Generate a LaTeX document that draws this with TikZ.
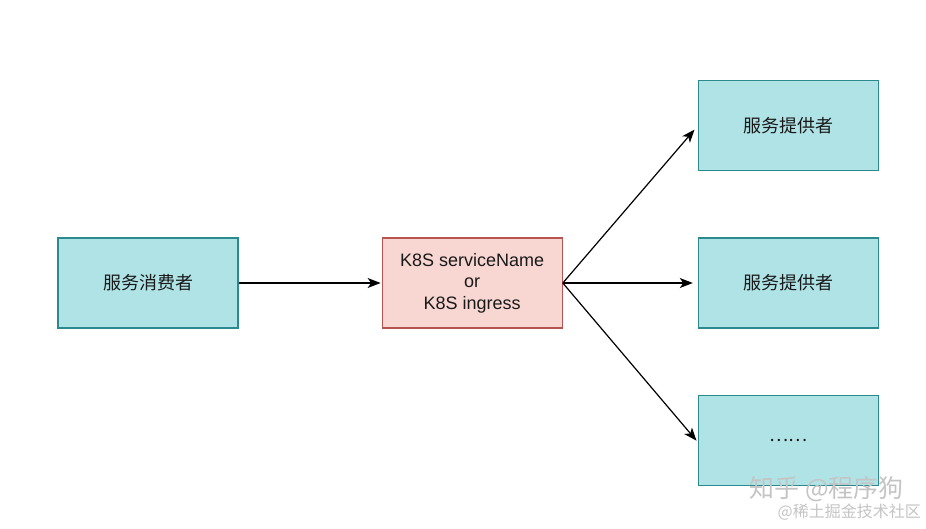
\documentclass[tikz,border=0pt]{standalone}
\usepackage{fontspec}
\setmainfont{Liberation Sans}
\newfontfamily\cjk{Noto Sans CJK SC}
\usetikzlibrary{arrows.meta, positioning}
\definecolor{svcfill}{HTML}{B0E3E6}
\definecolor{svcline}{HTML}{2A8A8E}
\definecolor{gwfill}{HTML}{F8D7D3}
\definecolor{gwline}{HTML}{B85450}
\definecolor{wmgray}{HTML}{C4C4C4}
\tikzset{
	svcbox/.style={draw=svcline, fill=svcfill, line width=1.2pt,
		minimum width=180pt, minimum height=90pt, align=center,
		font=\cjk\fontsize{18}{21.6}\selectfont, text=black!90},
	gwbox/.style={svcbox, draw=gwline, fill=gwfill,
		font=\fontsize{18}{21.6}\selectfont},
	farr/.style={-{Stealth[length=13pt, width=10pt, inset=3.5pt]}, line width=1.2pt,
		shorten >=5pt},
	wmark/.style={text=wmgray, inner sep=0pt, anchor=south east}
}
\begin{document}
\begin{tikzpicture}[x=1pt, y=-1pt]
	\useasboundingbox (0,0) rectangle (926,528);
	\node[svcbox] (consumer) at (148,283) {服务消费者};
	\node[gwbox, right=143pt of consumer] (gateway) {K8S serviceName\\or\\K8S ingress};
	\node[svcbox, right=135pt of gateway] (prov2) {服务提供者};
	\node[svcbox, above=66pt of prov2] (prov1) {服务提供者};
	\node[svcbox, below=66pt of prov2] (prov3) {……};
	\draw[farr, shorten >=1pt] (consumer) -- (gateway);
	\draw[farr] (gateway.east) -- (prov1.west);
	\draw[farr] (gateway.east) -- (prov2.west);
	\draw[farr, shorten >=2pt] (gateway.east) -- ([yshift=-2pt]prov3.west);
	% watermark
	\node[wmark, font=\cjk\fontsize{25}{25}\selectfont] (wm1) at (904,502) {知乎 @程序狗};
	\node[wmark, font=\cjk\fontsize{16}{16}\selectfont] (wm2) at (921,520) {@稀土掘金技术社区};
\end{tikzpicture}
\end{document}
